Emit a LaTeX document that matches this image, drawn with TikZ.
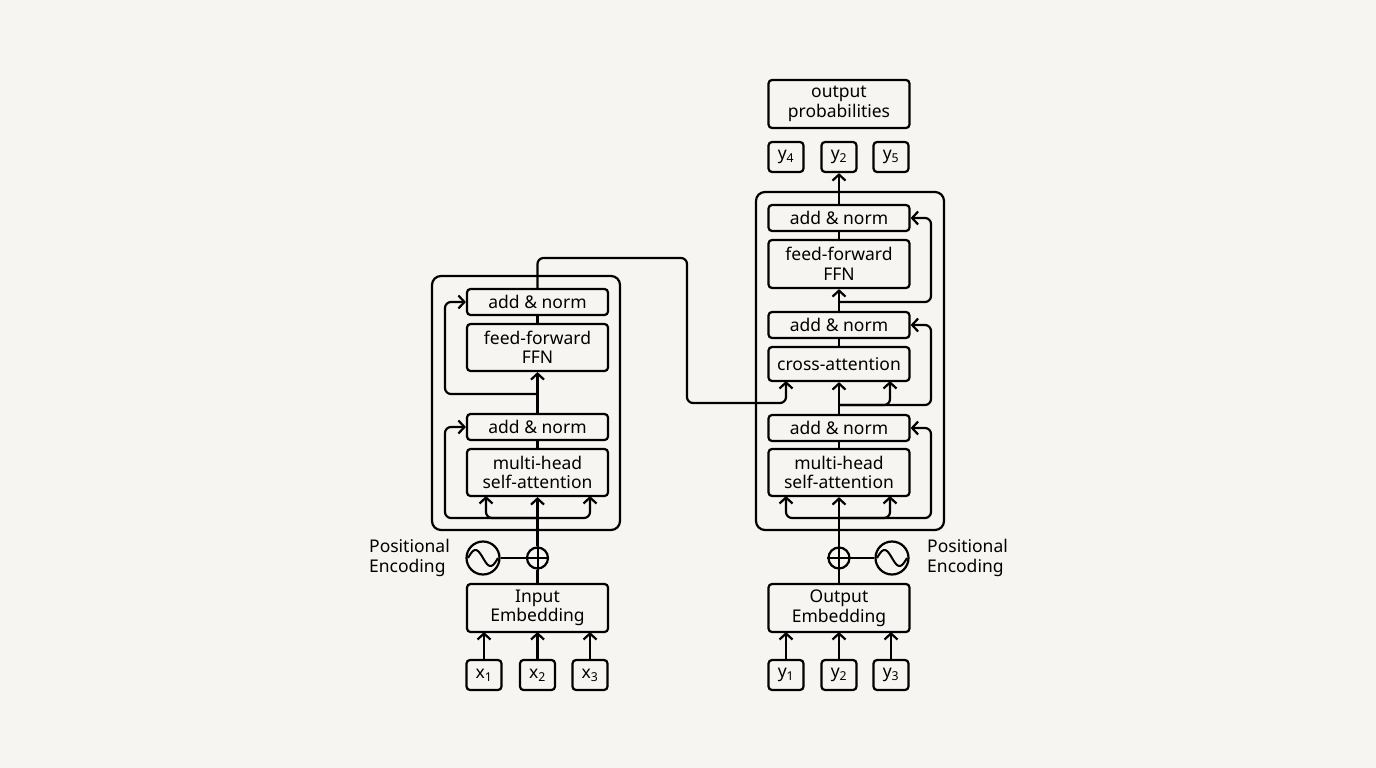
\documentclass[tikz,border=0pt]{standalone}
\usepackage{fontspec}
\setmainfont{Noto Sans}
\usetikzlibrary{arrows.meta, positioning, calc}
\definecolor{paper}{HTML}{F6F5F1}
\tikzset{
    blk/.style={draw, line width=2.2pt, rounded corners=3.5pt, minimum width=141pt, align=center, inner sep=0pt, font=\fontsize{17.5}{19.5}\selectfont},
    tok/.style={draw, line width=2.2pt, rounded corners=3.5pt, minimum width=35pt, minimum height=30pt, inner sep=0pt, font=\fontsize{17.5}{19.5}\selectfont},
    wire/.style={line width=2.2pt, rounded corners=6pt},
    arr/.style={wire, -{Straight Barb[length=6pt,width=13pt,line width=2.2pt]}},
    frame/.style={draw, line width=2.2pt, rounded corners=9pt},
    lbl/.style={font=\fontsize{17.5}{19.5}\selectfont, align=left, inner sep=0pt}
}
\begin{document}
\begin{tikzpicture}[x=1pt, y=-1pt]
    \useasboundingbox[fill=paper] (0,0) rectangle (1376,768);
    % encoder
    \draw[frame] (432,276) rectangle (620,530);
    \node[blk, minimum height=26pt] (eAN2) at (537.5,302) {add \& norm};
    \node[blk, minimum height=47pt] (eFFN) at (537.5,347.5) {feed-forward\\FFN};
    \node[blk, minimum height=26pt] (eAN1) at (537.5,427) {add \& norm};
    \node[blk, minimum height=47pt] (eMHA) at (537.5,472.5) {multi-head\\self-attention};
    \node[blk, minimum height=48pt] (eEmb) at (537.5,608) {Input\\Embedding};
    \node[draw, circle, line width=2.2pt, minimum size=21pt, inner sep=0pt] (ePlus) at (537.5,558) {};
    \draw[line width=2pt] (ePlus.north) -- (ePlus.south) (ePlus.west) -- (ePlus.east);
    \node[draw, circle, line width=2.2pt, minimum size=33pt, inner sep=0pt] (eSin) at (483,558) {};
    \draw[line width=2pt, domain=-15:15, samples=40, xshift=483pt] plot (\x, {558+8*sin(\x*180/15)});
    \node[lbl, anchor=east] (ePos) at (450,558) {Positional\\Encoding};
    \foreach \i/\xx in {1/484,2/537.5,3/590}{
        \node[tok] (x\i) at (\xx,675) {x\textsubscript{\i}};
        \draw[arr] (x\i.north) -- (\xx,632);
    }
    \draw[wire] (eEmb.north) -- (ePlus.south);
    \draw[wire] (eSin.east) -- (ePlus.west);
    \draw[arr] (ePlus.north) -- (eMHA.south);
    \draw[arr] (537.5,518) -| (445,427) -- (eAN1.west);
    \draw[arr] (537.5,518) -| (486,496);
    \draw[arr] (537.5,518) -| (590,496);
    \draw[wire] (eMHA.north) -- (eAN1.south);
    \draw[arr] (eAN1.north) -- (eFFN.south);
    \draw[arr] (537.5,394) -| (445,302) -- (eAN2.west);
    \draw[wire] (eFFN.north) -- (eAN2.south);
    % decoder
    \draw[frame] (756,192) rectangle (944,530);
    \node[blk, minimum height=26pt] (dAN3) at (839,218) {add \& norm};
    \node[blk, minimum height=48pt] (dFFN) at (839,264) {feed-forward\\FFN};
    \node[blk, minimum height=26pt] (dAN2) at (839,325) {add \& norm};
    \node[blk, minimum height=34pt] (dCA) at (839,364) {cross-attention};
    \node[blk, minimum height=26pt] (dAN1) at (839,428) {add \& norm};
    \node[blk, minimum height=47pt] (dMHA) at (839,472.5) {multi-head\\self-attention};
    \node[blk, minimum height=48pt] (dEmb) at (839,608) {Output\\Embedding};
    \node[blk, minimum height=48pt] (dOut) at (839,104) {output\\probabilities};
    \node[draw, circle, line width=2.2pt, minimum size=21pt, inner sep=0pt] (dPlus) at (839,558) {};
    \draw[line width=2pt] (dPlus.north) -- (dPlus.south) (dPlus.west) -- (dPlus.east);
    \node[draw, circle, line width=2.2pt, minimum size=33pt, inner sep=0pt] (dSin) at (892,558) {};
    \draw[line width=2pt, domain=-15:15, samples=40, xshift=892pt] plot (\x, {558+8*sin(\x*180/15)});
    \node[lbl, anchor=west] (dPos) at (927,558) {Positional\\Encoding};
    \foreach \i/\xx in {1/786,2/839,3/891}{
        \node[tok] (y\i) at (\xx,675) {y\textsubscript{\i}};
        \draw[arr] (y\i.north) -- (\xx,632);
    }
    \foreach \n/\i/\xx in {a/4/786,b/2/839,c/5/891}{
        \node[tok] (p\n) at (\xx,157) {y\textsubscript{\i}};
    }
    \draw[wire] (dEmb.north) -- (dPlus.south);
    \draw[wire] (dSin.west) -- (dPlus.east);
    \draw[arr] (dPlus.north) -- (dMHA.south);
    \draw[arr] (839,518) -| (931,428) -- (dAN1.east);
    \draw[arr] (839,518) -| (786,496);
    \draw[arr] (839,518) -| (890,496);
    \draw[wire] (dMHA.north) -- (dAN1.south);
    \draw[arr] (dAN1.north) -- (dCA.south);
    \draw[arr] (839,405) -| (931,325) -- (dAN2.east);
    \draw[arr] (839,405) -| (890,381);
    \draw[wire] (dCA.north) -- (dAN2.south);
    \draw[arr] (dAN2.north) -- (dFFN.south);
    \draw[arr] (839,302) -| (931,218) -- (dAN3.east);
    \draw[wire] (dFFN.north) -- (dAN3.south);
    \draw[arr] (dAN3.north) -- (pb.south);
    % encoder output into cross-attention
    \draw[arr] (eAN2.north) |- (687,258) |- (786,403) -- (786,381);
\end{tikzpicture}
\end{document}
